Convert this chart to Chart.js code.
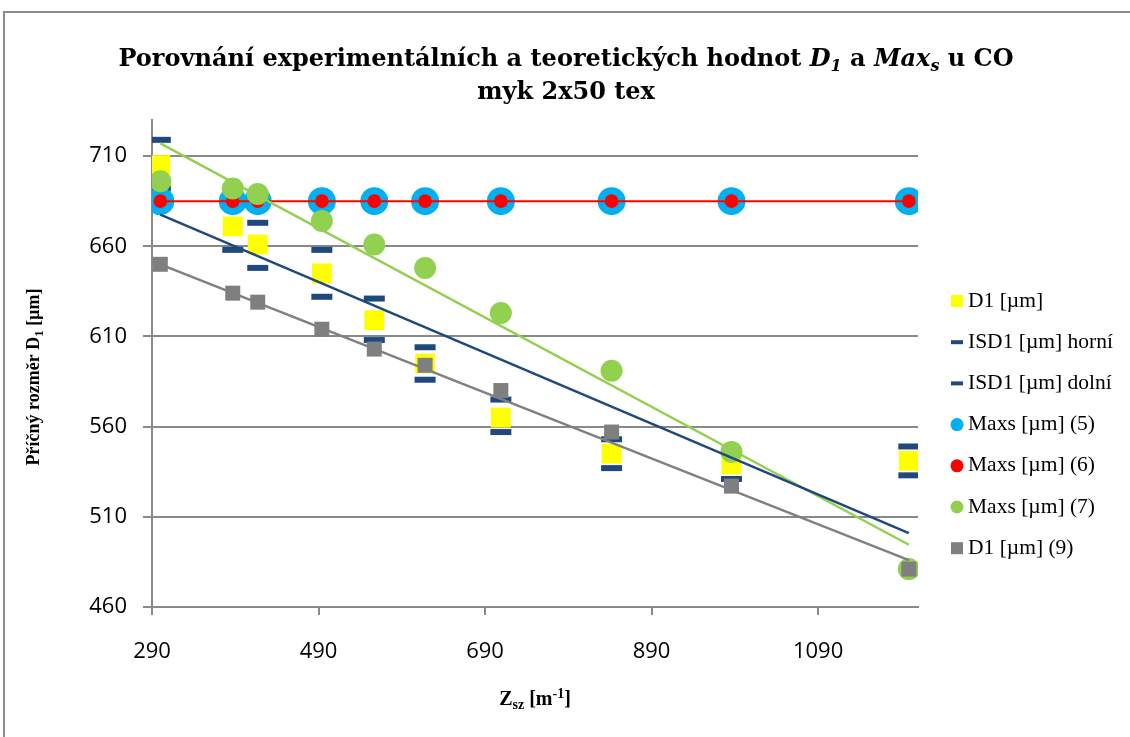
<!DOCTYPE html>
<html>
<head>
<meta charset="utf-8">
<title>Porovnání experimentálních a teoretických hodnot D1 a Maxs u CO myk 2x50 tex</title>
<script src="https://cdn.jsdelivr.net/npm/chart.js@4/dist/chart.umd.min.js"></script>
<style>
	body { margin: 0; width: 1130px; height: 737px; overflow: hidden; background: #fff; }
	#ramecek { position: absolute; left: 3px; top: 11px; width: 1200px; height: 800px; border: 2px solid #8c8c8c; box-sizing: border-box; }
	#graf { position: absolute; left: 0; top: 0; }
</style>
</head>
<body>
<div id="ramecek"></div>
<canvas id="graf" width="1130" height="737"></canvas>
<script>
// hodnoty
var zsz = [300, 387, 417, 494, 557, 618, 709, 842, 986, 1199];
var d1 = [705, 671, 661, 645, 619, 595, 565, 545, 539, 541];
var isd1Horni = [719, 684, 673, 658, 631, 604, 575, 553, 546, 549];
var isd1Dolni = [692, 658, 648, 632, 608, 586, 557, 537, 531, 533];
var maxs5 = [685, 685, 685, 685, 685, 685, 685, 685, 685, 685];
var maxs6 = [685, 685, 685, 685, 685, 685, 685, 685, 685, 685];
var maxs7 = [696, 692, 689, 674, 661, 648, 623, 591, 546, 481];
var d1Serie9 = [650, 634, 629, 614, 603, 594, 580, 557, 527, 481];

// spojnice trendu (krajni body)
var trendX = [300, 1199];
var trendD1 = [677.5, 501];
var trendMaxs7 = [717, 494.5];
var trendD1Serie9 = [650, 486];

var xTicks = [290, 490, 690, 890, 1090];
var yTicks = [460, 510, 560, 610, 660, 710];

var legendaPopisky = ['D1 [µm]', 'ISD1 [µm] horní', 'ISD1 [µm] dolní', 'Maxs [µm] (5)',
	'Maxs [µm] (6)', 'Maxs [µm] (7)', 'D1 [µm] (9)'];

var serif = "'Liberation Serif', 'DejaVu Serif', serif";
var serifSiroky = "'DejaVu Serif', serif";
var seda = '#898989';

function body(xs, ys) {
	return xs.map(function(x, i) { return { x: x, y: ys[i] }; });
}

function kresliText(ctx, casti, x, y) {
	var sirka = 0;
	casti.forEach(function(c) { ctx.font = c[1]; sirka += ctx.measureText(c[0]).width; });
	var px = x - sirka / 2;
	casti.forEach(function(c) {
		ctx.font = c[1];
		ctx.fillText(c[0], px, y + (c[2] || 0));
		px += ctx.measureText(c[0]).width;
	});
}

var popisky = {
	id: 'popisky',
	afterDraw: function(chart) {
		var ctx = chart.ctx;
		ctx.save();
		ctx.fillStyle = '#000';
		ctx.textBaseline = 'alphabetic';
		var b = 'bold 24px ' + serifSiroky, bi = 'italic bold 24px ' + serifSiroky, bis = 'italic bold 16px ' + serifSiroky;
		kresliText(ctx, [
			['Porovnání experimentálních a teoretických hodnot ', b],
			['D', bi], ['1', bis, 5],
			[' a ', b], ['Max', bi], ['s', bis, 5], [' u CO', b]
		], 566, 66);
		kresliText(ctx, [['myk 2x50 tex', b]], 566, 99);

		kresliText(ctx, [
			['Z', 'bold 20px ' + serif], ['sz', 'bold 14px ' + serif, 4],
			[' [m', 'bold 20px ' + serif], ['-1', 'bold 14px ' + serif, -7], [']', 'bold 20px ' + serif]
		], 535, 705);

		ctx.translate(39, 377);
		ctx.rotate(-Math.PI / 2);
		kresliText(ctx, [
			['Příčný rozměr D', 'bold 18px ' + serif], ['1', 'bold 13px ' + serif, 4],
			[' [µm]', 'bold 18px ' + serif]
		], 0, 0);
		ctx.restore();

		// legenda
		ctx.save();
		var ds = chart.data.datasets;
		for (var i = 0; i < legendaPopisky.length; i++) {
			var y = 301 + i * 41.2;
			var d = ds[i];
			var mx = 957;
			ctx.fillStyle = d.backgroundColor;
			ctx.strokeStyle = d.borderColor;
			if (d.pointStyle === 'rect') {
				ctx.fillRect(mx - 6, y - 6, 12, 12);
			} else if (d.pointStyle === 'line') {
				ctx.lineWidth = 4;
				ctx.beginPath(); ctx.moveTo(mx - 6, y); ctx.lineTo(mx + 6, y); ctx.stroke();
			} else {
				ctx.beginPath(); ctx.arc(mx, y, 6.5, 0, Math.PI * 2); ctx.fill();
			}
			ctx.fillStyle = '#000';
			ctx.font = '21.5px ' + serif;
			ctx.textBaseline = 'middle';
			ctx.fillText(legendaPopisky[i], 968, y);
		}
		ctx.restore();
	}
};

var ctx = document.getElementById('graf').getContext('2d');

var graf = new Chart(ctx, {
	type: 'scatter',
	data: {
		datasets: [{
			label: legendaPopisky[0], data: body(zsz, d1), order: 8,
			pointStyle: 'rect', pointRadius: 14, backgroundColor: '#FFFF00', borderColor: '#FFFF00', pointBorderWidth: 0
		}, {
			label: legendaPopisky[1], data: body(zsz, isd1Horni), order: 7,
			pointStyle: 'line', pointRadius: 10.5, backgroundColor: '#1F497D', borderColor: '#1F497D', pointBorderWidth: 6
		}, {
			label: legendaPopisky[2], data: body(zsz, isd1Dolni), order: 6,
			pointStyle: 'line', pointRadius: 10.5, backgroundColor: '#1F497D', borderColor: '#1F497D', pointBorderWidth: 6
		}, {
			label: legendaPopisky[3], data: body(zsz, maxs5), order: 5,
			pointStyle: 'circle', pointRadius: 14, backgroundColor: '#00B0F0', borderColor: '#00B0F0', pointBorderWidth: 0
		}, {
			label: legendaPopisky[4], data: body(zsz, maxs6), order: 4,
			showLine: true, borderWidth: 2,
			pointStyle: 'circle', pointRadius: 6.8, backgroundColor: '#FF0000', borderColor: '#FF0000', pointBorderWidth: 0
		}, {
			label: legendaPopisky[5], data: body(zsz, maxs7), order: 3,
			pointStyle: 'circle', pointRadius: 11, backgroundColor: '#92D050', borderColor: '#92D050', pointBorderWidth: 0
		}, {
			label: legendaPopisky[6], data: body(zsz, d1Serie9), order: 2,
			pointStyle: 'rect', pointRadius: 10.6, backgroundColor: '#7F7F7F', borderColor: '#7F7F7F', pointBorderWidth: 0
		}, {
			label: 'trend D1', data: body(trendX, trendD1), order: 1,
			showLine: true, borderWidth: 2.5, pointRadius: 0, borderColor: '#1F497D'
		}, {
			label: 'trend Maxs (7)', data: body(trendX, trendMaxs7), order: 1,
			showLine: true, borderWidth: 2.5, pointRadius: 0, borderColor: '#92D050'
		}, {
			label: 'trend D1 (9)', data: body(trendX, trendD1Serie9), order: 1,
			showLine: true, borderWidth: 2.5, pointRadius: 0, borderColor: '#808080'
		}]
	},
	options: {
		responsive: false,
		animation: false,
		events: [],
		devicePixelRatio: 1,
		layout: { padding: { left: 0, right: 212, top: 120, bottom: 70 } },
		plugins: { legend: { display: false }, tooltip: { enabled: false } },
		scales: {
			x: {
				type: 'linear', min: 290, max: 1210,
				afterBuildTicks: function(s) { s.ticks = xTicks.map(function(v) { return { value: v }; }); },
				afterFit: function(s) { s.height = 60; },
				grid: { drawOnChartArea: false, color: seda, lineWidth: 2, tickLength: 8 },
				border: { color: seda, width: 2 },
				ticks: {
					color: '#000', font: { family: 'Open Sans', size: 22 }, padding: 24, maxRotation: 0,
					callback: function(v) { return String(v); }
				}
			},
			y: {
				type: 'linear', min: 460, max: 730,
				afterBuildTicks: function(s) { s.ticks = yTicks.map(function(v) { return { value: v }; }); },
				afterFit: function(s) { s.width = 152; },
				grid: { color: seda, lineWidth: 2, tickLength: 9 },
				border: { color: seda, width: 2 },
				ticks: {
					color: '#000', font: { family: 'Open Sans', size: 22 }, padding: 16,
					callback: function(v) { return String(v); }
				}
			}
		}
	},
	plugins: [popisky]
});
</script>
</body>
</html>
